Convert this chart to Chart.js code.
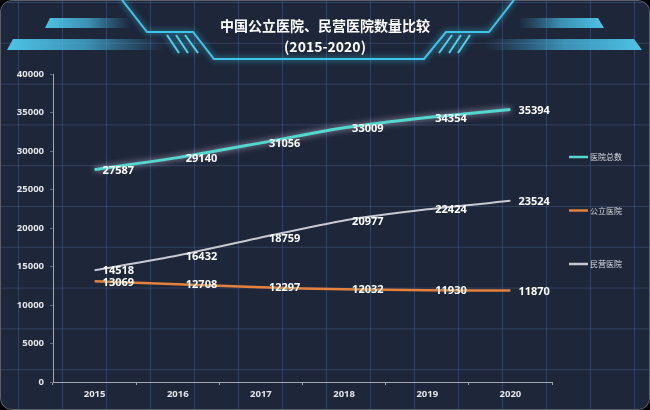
<!DOCTYPE html>
<html><head><meta charset="utf-8">
<script src="https://cdn.jsdelivr.net/npm/chart.js@4/dist/chart.umd.min.js"></script>
<style>
html,body{margin:0;padding:0;background:#000;}
#wrap{position:relative;width:650px;height:410px;border-radius:12px;overflow:hidden;
background-color:#1e2639;
background-image:linear-gradient(to right, rgba(70,92,135,0.5) 1px, transparent 1px),linear-gradient(to bottom, rgba(70,92,135,0.5) 1px, transparent 1px);
background-size:44px 40.8px;background-position:18px 2px;
box-shadow: inset 0 0 0 1px #5c606a;}
canvas{display:block}
</style></head>
<body><div id="wrap"><canvas id="c" width="650" height="410"></canvas></div>
<script>
const categories = ['2015','2016','2017','2018','2019','2020'];
const totalHospitals = [27587, 29140, 31056, 33009, 34354, 35394];
const publicHospitals = [13069, 12708, 12297, 12032, 11930, 11870];
const privateHospitals = [14518, 16432, 18759, 20977, 22424, 23524];
const seriesNames = ['医院总数', '公立医院', '民营医院'];
const seriesColors = ['#52d8cf', '#e5813d', '#c8c9d2'];
const titleLines = ['中国公立医院、民营医院数量比较', '(2015-2020)'];

const headerDeco = {
  id: 'headerDeco',
  beforeDraw(chart) {
    const ctx = chart.ctx;
    ctx.save();
    function bar(pts, x0, x1) {
      const g = ctx.createLinearGradient(x0, 0, x1, 0);
      g.addColorStop(0, 'rgba(78,196,230,1)');
      g.addColorStop(0.5, 'rgba(70,180,220,0.75)');
      g.addColorStop(1, 'rgba(60,160,210,0)');
      ctx.fillStyle = g;
      ctx.beginPath();
      ctx.moveTo(pts[0][0], pts[0][1]);
      for (let i = 1; i < pts.length; i++) ctx.lineTo(pts[i][0], pts[i][1]);
      ctx.closePath();
      ctx.fill();
    }
    bar([[50,18],[132,18],[132,28],[45,28]], 45, 132);
    bar([[13,39],[165,39],[165,50],[7,50]], 7, 165);
    bar([[518,18],[598,18],[604,28],[518,28]], 604, 518);
    bar([[485,39],[634,39],[642,50],[485,50]], 642, 485);

    ctx.strokeStyle = '#3ec6ea';
    ctx.lineWidth = 2;
    ctx.shadowColor = 'rgba(62,198,234,0.9)';
    ctx.shadowBlur = 6;
    ctx.beginPath();
    const poly = [[122,0],[147,32],[193,32],[214,59],[424,59],[446,32],[489,32],[514,0]];
    ctx.moveTo(poly[0][0], poly[0][1]);
    for (let i = 1; i < poly.length; i++) ctx.lineTo(poly[i][0], poly[i][1]);
    ctx.stroke();

    ctx.strokeStyle = '#4fd3ea';
    ctx.lineWidth = 2;
    const stripesL = [[167,179],[176,188],[185,198]];
    stripesL.forEach(s => { ctx.beginPath(); ctx.moveTo(s[0],35); ctx.lineTo(s[1],53); ctx.stroke(); });
    const stripesR = [[470,458],[461,449],[452,439]];
    stripesR.forEach(s => { ctx.beginPath(); ctx.moveTo(s[0],35); ctx.lineTo(s[1],53); ctx.stroke(); });
    ctx.restore();
  }
};

const glowPlugin = {
  id: 'glow',
  beforeDatasetDraw(chart, args) {
    if (args.index === 0) {
      chart.ctx.save();
      chart.ctx.shadowColor = 'rgba(235,225,255,0.7)';
      chart.ctx.shadowBlur = 6;
    }
  },
  afterDatasetDraw(chart, args) {
    if (args.index === 0) chart.ctx.restore();
  }
};

const valueLabels = {
  id: 'valueLabels',
  afterDatasetsDraw(chart) {
    const ctx = chart.ctx;
    ctx.save();
    ctx.font = 'bold 11px "Noto Sans", "Open Sans", sans-serif';
    ctx.fillStyle = '#ffffff';
    ctx.textAlign = 'left';
    ctx.textBaseline = 'middle';
    chart.data.datasets.forEach((ds, i) => {
      const meta = chart.getDatasetMeta(i);
      meta.data.forEach((el, j) => {
        ctx.fillText(String(ds.data[j]), el.x + 8, el.y + 1);
      });
    });
    ctx.restore();
  }
};

const sideLegend = {
  id: 'sideLegend',
  afterDraw(chart) {
    const ctx = chart.ctx;
    ctx.save();
    ctx.font = '8px "Noto Sans CJK SC", sans-serif';
    ctx.textAlign = 'left';
    ctx.textBaseline = 'middle';
    const x0 = chart.chartArea.right + 17;
    const y0 = chart.chartArea.top + 83;
    chart.data.datasets.forEach((ds, i) => {
      const y = y0 + i * 53.5;
      ctx.strokeStyle = ds.borderColor;
      ctx.lineWidth = 2.5;
      ctx.beginPath();
      ctx.moveTo(x0, y);
      ctx.lineTo(x0 + 19, y);
      ctx.stroke();
      ctx.fillStyle = '#dcdde2';
      ctx.fillText(ds.label, x0 + 21, y);
    });
    ctx.restore();
  }
};

new Chart(document.getElementById('c'), {
  type: 'line',
  data: {
    labels: categories,
    datasets: [
      { label: seriesNames[0], data: totalHospitals, borderColor: seriesColors[0], borderWidth: 3 },
      { label: seriesNames[1], data: publicHospitals, borderColor: seriesColors[1], borderWidth: 2.5 },
      { label: seriesNames[2], data: privateHospitals, borderColor: seriesColors[2], borderWidth: 2 }
    ]
  },
  options: {
    responsive: false,
    animation: false,
    layout: { padding: 0 },
    elements: { point: { radius: 0 }, line: { tension: 0.2 } },
    plugins: {
      legend: { display: false },
      tooltip: { enabled: false },
      title: {
        display: true,
        text: titleLines,
        color: '#ffffff',
        font: { size: 14, weight: 'bold', family: '"Noto Sans CJK SC", sans-serif', lineHeight: 1.5 },
        padding: { top: 15.5, bottom: 16.5 }
      }
    },
    scales: {
      x: {
        offset: true,
        afterFit(s) { s.height = 28; },
        border: { color: '#a3a8b5', width: 1 },
        grid: { drawOnChartArea: false, color: '#a3a8b5', tickLength: 3, offset: true },
        ticks: { color: '#e4e5ea', padding: 4, font: { size: 9.5, weight: 'bold', family: '"Noto Sans", sans-serif' } }
      },
      y: {
        min: 0, max: 40000,
        afterFit(s) { s.width = 53; },
        border: { color: '#a3a8b5', width: 1 },
        grid: { drawOnChartArea: false, color: 'rgba(163,168,181,0.5)', tickLength: 3 },
        ticks: { stepSize: 5000, color: '#e4e5ea', padding: 6,
          callback: (v) => String(v),
          font: { size: 9.5, weight: 'bold', family: '"Noto Sans", sans-serif' } }
      },
      legendSpace: {
        type: 'linear',
        position: 'right',
        afterFit(s) { s.width = 98; },
        border: { display: false },
        grid: { display: false },
        ticks: { display: false }
      }
    }
  },
  plugins: [headerDeco, glowPlugin, valueLabels, sideLegend]
});
</script>
</body></html>
